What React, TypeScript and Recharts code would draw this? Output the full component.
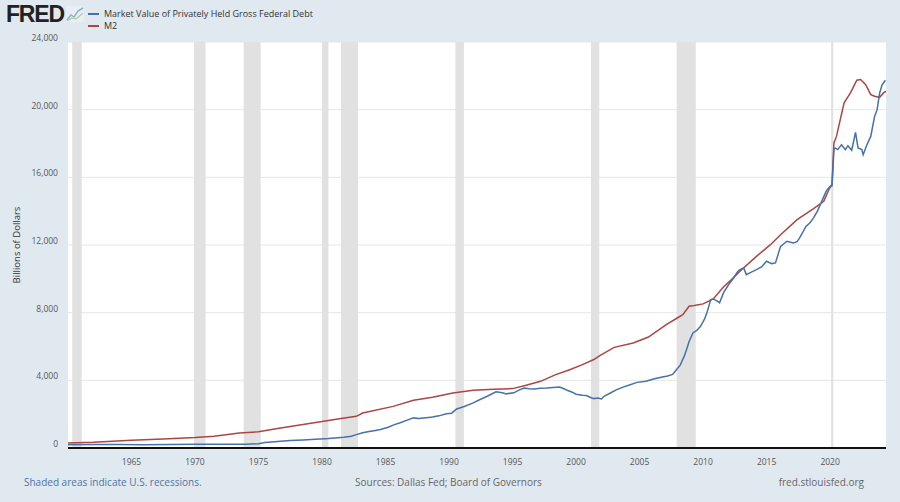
import { LineChart, Line, XAxis, YAxis, CartesianGrid, ReferenceArea } from 'recharts';

// Market Value of Privately Held Gross Federal Debt (billions), [year, value]
const debtYears = [
  1960.0, 1962.0, 1964.0, 1966.0, 1968.0, 1970.0, 1972.0, 1974.0, 1975.0, 1975.5,
  1976.5, 1977.5, 1978.5, 1979.5, 1980.5, 1981.0, 1981.7, 1982.3, 1982.7, 1983.2,
  1983.7, 1984.2, 1984.6, 1985.2, 1985.7, 1986.1, 1986.7, 1987.2, 1987.6, 1988.2,
  1988.7, 1989.2, 1989.8, 1990.2, 1990.6, 1991.2, 1991.9, 1992.4, 1993.0, 1993.7,
  1994.2, 1994.5, 1995.1, 1995.5, 1995.9, 1996.3, 1996.7, 1997.2, 1997.7, 1998.2,
  1998.7, 1999.0, 1999.3, 1999.7, 2000.0, 2000.5, 2000.8, 2001.1, 2001.4, 2001.7,
  2002.0, 2002.2, 2002.7, 2003.2, 2003.7, 2004.2, 2004.8, 2005.5, 2006.1, 2006.7,
  2007.2, 2007.6, 2007.9, 2008.2, 2008.5, 2008.7, 2008.9, 2009.2, 2009.5, 2009.8,
  2010.1, 2010.3, 2010.6, 2010.8, 2011.1, 2011.3, 2011.6, 2012.0, 2012.4, 2012.7,
  2012.9, 2013.2, 2013.4, 2013.8, 2014.2, 2014.6, 2015.0, 2015.4, 2015.7, 2016.1,
  2016.6, 2017.1, 2017.4, 2017.6, 2018.1, 2018.4, 2018.7, 2019.0, 2019.4, 2019.7,
  2020.0, 2020.15, 2020.3, 2020.4, 2020.6, 2020.9, 2021.2, 2021.4, 2021.7, 2022.0,
  2022.2, 2022.5, 2022.6, 2022.9, 2023.2, 2023.5, 2023.7, 2023.9, 2024.1, 2024.2,
  2024.35,
];
const debtValues = [
  190, 200, 205, 195, 200, 215, 225, 220, 250, 320,
  390, 440, 480, 520, 560, 590, 630, 690, 790, 900,
  980, 1040, 1090, 1230, 1380, 1480, 1650, 1780, 1740, 1790,
  1830, 1900, 2030, 2060, 2310, 2450, 2670, 2850, 3060, 3320,
  3260, 3200, 3260, 3420, 3550, 3500, 3490, 3530, 3550, 3580,
  3610, 3520, 3410, 3300, 3180, 3120, 3100, 3000, 2920, 2960,
  2900, 3060, 3250, 3450, 3600, 3720, 3880, 3950, 4080, 4180,
  4260, 4350, 4630, 4900, 5400, 5820, 6300, 6800, 6950, 7190,
  7600, 7990, 8770, 8810, 8700, 8580, 9170, 9650, 10050, 10400,
  10540, 10640, 10250, 10400, 10540, 10700, 11040, 10900, 10940, 11920,
  12220, 12120, 12200, 12420, 13100, 13300, 13600, 14000, 14680, 15200,
  15470, 15500, 17640, 17740, 17640, 17930, 17640, 17870, 17600, 18660,
  17740, 17640, 17340, 17930, 18420, 19600, 20000, 20990, 21480, 21580,
  21740,
];

// M2 (billions)
const m2Years = [
  1960.0, 1962.0, 1965.0, 1967.5, 1970.0, 1971.5, 1973.5, 1975.0, 1976.5, 1978.0,
  1980.0, 1981.5, 1982.7, 1983.2, 1985.6, 1987.2, 1988.7, 1990.3, 1991.9, 1993.5,
  1995.0, 1996.0, 1997.2, 1998.4, 1999.5, 2000.5, 2001.4, 2001.9, 2003.0, 2004.5,
  2005.7, 2007.1, 2008.0, 2008.4, 2008.9, 2009.3, 2010.0, 2010.8, 2011.6, 2012.3,
  2012.9, 2014.2, 2015.3, 2016.1, 2017.4, 2018.7, 2019.5, 2019.9, 2020.15, 2020.3,
  2020.5, 2021.1, 2021.6, 2022.1, 2022.4, 2022.8, 2023.2, 2023.5, 2023.9, 2024.2,
  2024.4,
];
const m2Values = [
  300, 340, 460, 530, 620, 700, 880, 960, 1150, 1330,
  1560, 1740, 1870, 2070, 2460, 2820, 3000, 3250, 3410, 3470,
  3510, 3700, 3940, 4340, 4630, 4930, 5230, 5480, 5950, 6210,
  6560, 7290, 7700, 7880, 8380, 8420, 8520, 8810, 9520, 10000,
  10450, 11330, 12020, 12610, 13500, 14150, 14580, 15270, 15600, 18030,
  18420, 20400, 20990, 21740, 21780, 21480, 20890, 20790, 20730, 20990,
  21090,
];

// NBER recessions [start, end]
const recessions = [
  [1960.33, 1961.08],
  [1969.92, 1970.83],
  [1973.83, 1975.17],
  [1980.0, 1980.5],
  [1981.5, 1982.83],
  [1990.5, 1991.17],
  [2001.17, 2001.83],
  [2007.92, 2009.42],
  [2020.08, 2020.25],
];

const xTicks = [1965, 1970, 1975, 1980, 1985, 1990, 1995, 2000, 2005, 2010, 2015, 2020];
const yTicks = [0, 4000, 8000, 12000, 16000, 20000, 24000];

const debtData = debtYears.map((year, i) => ({ year, value: debtValues[i] }));
const m2Data = m2Years.map((year, i) => ({ year, value: m2Values[i] }));

const FONT = '"Open Sans", "Noto Sans", sans-serif';

const XTick = ({ x, y, payload }: any) => (
  <text x={x} y={y + 15} textAnchor="middle" fontSize={8.5} fill="#555" fontFamily={FONT}>
    {payload.value}
  </text>
);

const YTick = ({ x, y, payload }: any) => (
  <text x={x} y={y - 1} textAnchor="end" fontSize={8.5} fill="#555" fontFamily={FONT}>
    {payload.value.toLocaleString('en-US')}
  </text>
);

export default function App() {
  return (
    <div
      style={{
        position: 'absolute',
        left: 0,
        top: 0,
        width: 900,
        height: 502,
        background: '#e1e9f0',
        fontFamily: FONT,
        overflow: 'hidden',
      }}
    >
      {/* logo */}
      <div
        style={{
          position: 'absolute',
          left: 6,
          top: 0,
          fontFamily: '"Liberation Sans", Arial, sans-serif',
          fontWeight: 900,
          fontSize: 23,
          letterSpacing: -1.2,
          color: '#222',
          lineHeight: '28px',
        }}
      >
        FRED
      </div>
      <svg style={{ position: 'absolute', left: 66, top: 6 }} width={18} height={16}>
        <rect x={0} y={0} width={18} height={16} fill="#e9eef3" />
        <polyline points="1,14 5,9 8,11 12,5 17,2" fill="none" stroke="#8fb0c9" strokeWidth={1.5} />
        <polyline points="1,15 6,12 10,13 17,7" fill="none" stroke="#b5c9a6" strokeWidth={1.2} />
      </svg>

      {/* legend */}
      <div style={{ position: 'absolute', left: 88, top: 8, fontSize: 9, color: '#333', lineHeight: '12px' }}>
        <div style={{ display: 'flex', alignItems: 'center', height: 12 }}>
          <span style={{ display: 'inline-block', width: 11, height: 2, background: '#4572a7', marginRight: 5 }} />
          Market Value of Privately Held Gross Federal Debt
        </div>
        <div style={{ display: 'flex', alignItems: 'center', height: 12 }}>
          <span style={{ display: 'inline-block', width: 11, height: 2, background: '#aa4643', marginRight: 5 }} />
          M2
        </div>
      </div>

      {/* y axis title */}
      <div
        style={{
          position: 'absolute',
          left: 16,
          top: 245,
          transform: 'translate(-50%, -50%) rotate(-90deg)',
          fontSize: 9.5,
          color: '#333',
          whiteSpace: 'nowrap',
        }}
      >
        Billions of Dollars
      </div>

      <div style={{ position: 'absolute', left: 0, top: 0 }}>
        <LineChart width={900} height={502} margin={{ top: 42, right: 14, bottom: 24, left: 8 }}>
          <CartesianGrid vertical={false} stroke="#e6e6e6" fill="#ffffff" />
          {recessions.map(([a, b], i) => (
            <ReferenceArea key={i} x1={a} x2={b} fill="#e1e1e1" fillOpacity={1} stroke="none" ifOverflow="hidden" />
          ))}
          <XAxis
            dataKey="year"
            type="number"
            domain={[1960, 2024.4]}
            ticks={xTicks}
            allowDataOverflow
            height={30}
            tickLine={false}
            tickSize={0}
            axisLine={{ stroke: '#111', strokeWidth: 2 }}
            tick={<XTick />}
            interval={0}
          />
          <YAxis
            type="number"
            domain={[0, 24000]}
            ticks={yTicks}
            width={60}
            axisLine={false}
            tickLine={false}
            tickSize={0}
            tickMargin={10}
            tick={<YTick />}
            interval={0}
          />
          <Line
            data={m2Data}
            dataKey="value"
            type="linear"
            stroke="#aa4643"
            strokeWidth={1.5}
            dot={false}
            isAnimationActive={false}
          />
          <Line
            data={debtData}
            dataKey="value"
            type="linear"
            stroke="#4572a7"
            strokeWidth={1.5}
            dot={false}
            isAnimationActive={false}
          />
        </LineChart>
      </div>

      {/* footer */}
      <div style={{ position: 'absolute', left: 24, top: 475, fontSize: 10, color: '#4f74a3' }}>
        Shaded areas indicate U.S. recessions.
      </div>
      <div style={{ position: 'absolute', left: 355, top: 475, fontSize: 10, color: '#666' }}>
        Sources: Dallas Fed; Board of Governors
      </div>
      <div style={{ position: 'absolute', right: 36, top: 475, fontSize: 10, color: '#666' }}>
        fred.stlouisfed.org
      </div>
    </div>
  );
}
